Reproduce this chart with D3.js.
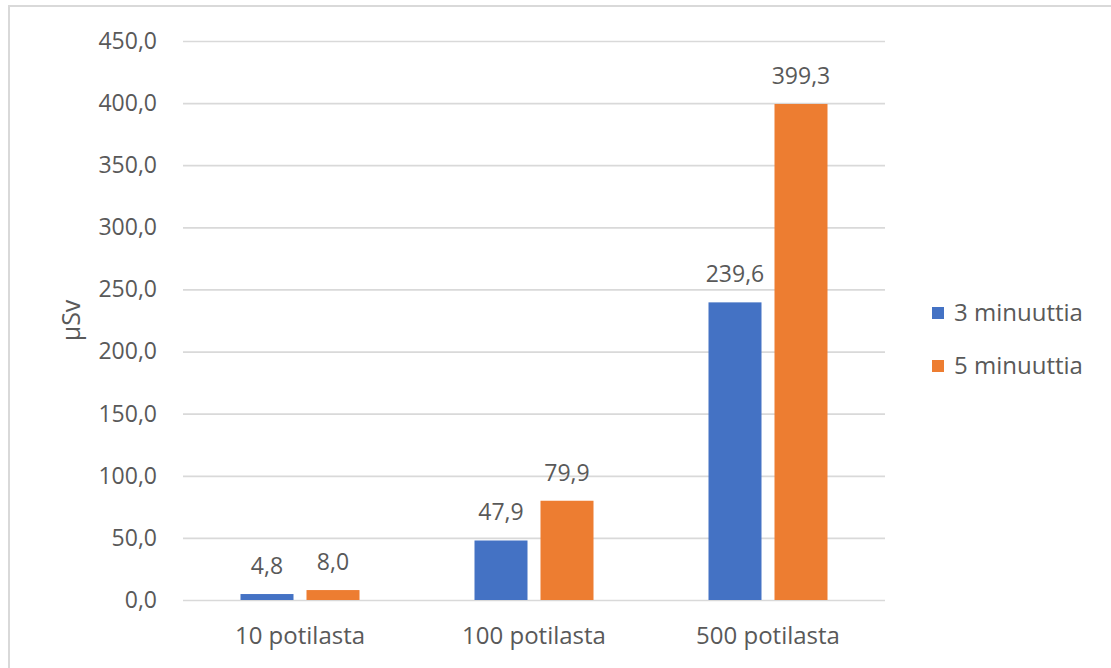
<!DOCTYPE html>
<html>
<head>
<meta charset="utf-8">
<script src="https://cdn.jsdelivr.net/npm/d3@7"></script>
<style>
  html, body { margin: 0; padding: 0; background: #fff; }
  svg { display: block; }
  text { font-family: "Open Sans", "Noto Sans", sans-serif; fill: #595959; }
</style>
</head>
<body>
<svg id="chart" width="1111" height="668"></svg>
<script>
// Dose per patient count, two exposure durations
const categories = ["10 potilasta", "100 potilasta", "500 potilasta"];
const seriesNames = ["3 minuuttia", "5 minuuttia"];
const values3min = [4.8, 47.9, 239.6];
const values5min = [8.0, 79.9, 399.3];
const yTicks = [0, 50, 100, 150, 200, 250, 300, 350, 400, 450];
const colors = ["#4472C4", "#ED7D31"];

const svg = d3.select("#chart");
const W = 1111, H = 668;
const plot = { left: 183, right: 885, top: 41, bottom: 600 };

// Frame
svg.append("rect")
  .attr("x", 9).attr("y", 6)
  .attr("width", W + 20).attr("height", H + 20)
  .attr("fill", "#fff")
  .attr("stroke", "#d9d9d9").attr("stroke-width", 2);

const fmt = v => d3.format(".1f")(v).replace(".", ",");

const x = d3.scaleBand().domain(categories).range([plot.left, plot.right]);
const y = d3.scaleLinear().domain([0, 450]).range([plot.bottom, plot.top]);

// Gridlines and y tick labels
const yAxis = d3.axisLeft(y).tickValues(yTicks).tickFormat(fmt)
  .tickSize(-(plot.right - plot.left)).tickPadding(26);
const gy = svg.append("g").attr("transform", `translate(${plot.left},0)`).call(yAxis);
gy.select(".domain").remove();
gy.selectAll(".tick line").attr("stroke", "#d9d9d9").attr("stroke-width", 1.7);
gy.selectAll(".tick text")
  .attr("font-size", 23).attr("fill", "#595959")
  .style("font-family", "'Open Sans', sans-serif");

// Category labels
const xAxis = d3.axisBottom(x).tickSize(0).tickPadding(27);
const gx = svg.append("g").attr("transform", `translate(0,${plot.bottom})`).call(xAxis);
gx.select(".domain").remove();
gx.selectAll(".tick text")
  .attr("font-size", 24).attr("fill", "#595959")
  .style("font-family", "'Open Sans', sans-serif");

// Bars, two per category, with value labels above
const barW = 53, barGap = 13;
const series = [values3min, values5min];

series.forEach((vals, si) => {
  const g = svg.append("g");
  categories.forEach((c, ci) => {
    const cx = x(c) + x.bandwidth() / 2;
    const bx = si === 0 ? cx - barGap / 2 - barW : cx + barGap / 2;
    g.append("rect")
      .attr("x", bx).attr("width", barW)
      .attr("y", y(vals[ci]))
      .attr("height", y(0) - y(vals[ci]))
      .attr("fill", colors[si]);
    g.append("text")
      .attr("x", bx + barW / 2)
      .attr("y", y(vals[ci]) - 20)
      .attr("text-anchor", "middle")
      .attr("font-size", 23)
      .text(fmt(vals[ci]));
  });
});

// Y axis title
svg.append("text")
  .attr("transform", `translate(80,${(plot.top + plot.bottom) / 2}) rotate(-90)`)
  .attr("text-anchor", "middle")
  .attr("font-size", 25)
  .text("µSv");

// Legend
const legendY = [313, 366];
seriesNames.forEach((name, i) => {
  svg.append("rect")
    .attr("x", 932).attr("y", legendY[i] - 6)
    .attr("width", 12).attr("height", 12)
    .attr("fill", colors[i]);
  svg.append("text")
    .attr("x", 954).attr("y", legendY[i])
    .attr("dy", "0.35em")
    .attr("font-size", 24)
    .text(name);
});
</script>
</body>
</html>
